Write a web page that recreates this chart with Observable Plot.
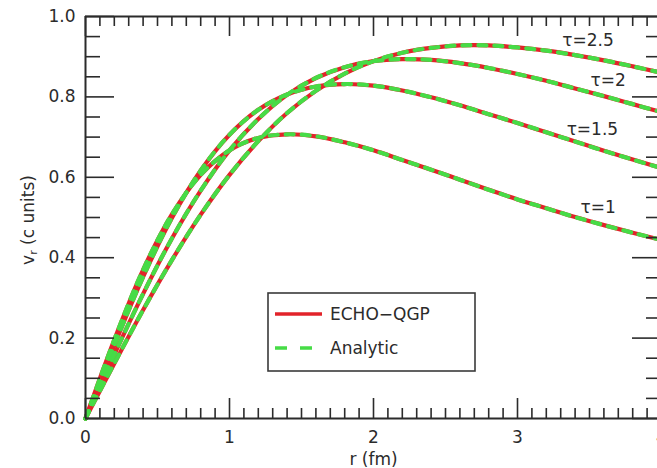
<!DOCTYPE html>
<html>
<head>
<meta charset="utf-8">
<script src="https://cdn.jsdelivr.net/npm/d3@7"></script>
<script src="https://cdn.jsdelivr.net/npm/@observablehq/plot@0.6"></script>
<style>
  html, body { margin: 0; padding: 0; background: #fff; }
  #chart { width: 657px; height: 468px; overflow: hidden; position: relative; }
</style>
</head>
<body>
<div id="chart"></div>
<script>
// ---- data ----
const rValues = [0, 0.2, 0.4, 0.6, 0.8, 1.0, 1.2, 1.4, 1.6, 1.8, 2.0, 2.2, 2.4, 2.6, 2.8, 3.0, 3.2, 3.4, 3.6, 3.8, 4.0];
const taus = [1, 1.5, 2, 2.5];
const vTau1   = [0, 0.196, 0.370, 0.508, 0.606, 0.667, 0.698, 0.707, 0.702, 0.687, 0.667, 0.643, 0.619, 0.594, 0.569, 0.545, 0.523, 0.501, 0.481, 0.462, 0.444];
const vTau15  = [0, 0.182, 0.352, 0.499, 0.617, 0.706, 0.768, 0.806, 0.826, 0.832, 0.828, 0.816, 0.799, 0.779, 0.757, 0.735, 0.712, 0.689, 0.666, 0.644, 0.623];
const vTau2   = [0, 0.159, 0.310, 0.448, 0.567, 0.667, 0.745, 0.805, 0.847, 0.874, 0.889, 0.894, 0.892, 0.884, 0.872, 0.857, 0.840, 0.821, 0.802, 0.782, 0.762];
const vTau25  = [0, 0.137, 0.270, 0.394, 0.507, 0.606, 0.690, 0.760, 0.815, 0.858, 0.889, 0.910, 0.922, 0.928, 0.928, 0.923, 0.915, 0.904, 0.891, 0.876, 0.860];
const curveLabels = ["τ=1", "τ=1.5", "τ=2", "τ=2.5"];
const labelR = [3.56, 3.52, 3.63, 3.49];
const labelV = [0.525, 0.719, 0.841, 0.940];
const xMajor = [0, 1, 2, 3, 4];
const yMajor = [0, 0.2, 0.4, 0.6, 0.8, 1.0];
const seriesNames = ["ECHO−QGP", "Analytic"];

// ---- build table ----
const vSeries = [vTau1, vTau15, vTau2, vTau25];
const rows = [];
taus.forEach((t, k) => rValues.forEach((r, i) => rows.push({tau: t, r, v: vSeries[k][i]})));
const labels = curveLabels.map((s, i) => ({s, r: labelR[i], v: labelV[i]}));
const xMinor = d3.range(0, 41).map(i => i / 10).filter(d => Math.abs(d - Math.round(d)) > 1e-6);
const yMinor = d3.range(0, 21).map(i => i / 20).filter(d => Math.abs(d * 5 - Math.round(d * 5)) > 1e-6);

const RED = "#e2232a", GREEN = "#46dc46", INK = "#2b2b2b";
const W = 657, H = 468;

const plot = Plot.plot({
  width: W, height: H,
  marginLeft: 85, marginRight: 0, marginTop: 16, marginBottom: 50,
  style: {fontFamily: "DejaVu Sans", fontSize: "17px", color: INK, background: "#fff", overflow: "visible"},
  x: {domain: [0, 4], range: [85, 661], axis: null},
  y: {domain: [0, 1], range: [418, 16], axis: null},
  marks: [
    // curves
    Plot.line(rows, {x: "r", y: "v", z: "tau", stroke: RED, strokeWidth: 4.2, curve: "catmull-rom"}),
    Plot.line(rows, {x: "r", y: "v", z: "tau", stroke: GREEN, strokeWidth: 4.2, strokeDasharray: "8,8", curve: "catmull-rom"}),
    // frame
    Plot.ruleX([0, 4], {stroke: INK, strokeWidth: 2}),
    Plot.ruleY([0, 1], {x1: 0, x2: 4, stroke: INK, strokeWidth: 2}),
    // bottom ticks
    Plot.ruleX(xMajor, {x: d => d, y1: 0, y2: 0, insetTop: -20, stroke: INK, strokeWidth: 1.6}),
    Plot.ruleX(xMinor, {x: d => d, y1: 0, y2: 0, insetTop: -10, stroke: INK, strokeWidth: 1.6}),
    // top ticks
    Plot.ruleX(xMajor, {x: d => d, y1: 1, y2: 1, insetBottom: -20, stroke: INK, strokeWidth: 1.6}),
    Plot.ruleX(xMinor, {x: d => d, y1: 1, y2: 1, insetBottom: -10, stroke: INK, strokeWidth: 1.6}),
    // left ticks
    Plot.ruleY(yMajor, {y: d => d, x1: 0, x2: 0, insetRight: -29, stroke: INK, strokeWidth: 1.6}),
    Plot.ruleY(yMinor, {y: d => d, x1: 0, x2: 0, insetRight: -15, stroke: INK, strokeWidth: 1.6}),
    // right ticks
    Plot.ruleY(yMajor, {y: d => d, x1: 4, x2: 4, insetLeft: -29, stroke: INK, strokeWidth: 1.6}),
    Plot.ruleY(yMinor, {y: d => d, x1: 4, x2: 4, insetLeft: -15, stroke: INK, strokeWidth: 1.6}),
    // tick labels
    Plot.axisX(xMajor, {anchor: "bottom", tickSize: 0, tickPadding: 12, label: null, tickFormat: d3.format("d"), fontSize: 17, fill: INK}),
    Plot.axisY(yMajor, {anchor: "left", tickSize: 0, tickPadding: 10, label: null, tickFormat: d3.format(".1f"), fontSize: 17, fill: INK}),
    // curve labels
    Plot.text(labels, {x: "r", y: "v", text: "s", fontSize: 17, fill: INK}),
    // x label
    Plot.text(["r (fm)"], {x: 2, y: 0, dy: 41, text: d => d, fontSize: 17, fill: INK})
  ]
});

const svg = d3.select(plot);
// y axis label with subscript
const yl = svg.append("text")
  .attr("transform", "translate(29,220) rotate(-90)")
  .attr("text-anchor", "middle")
  .attr("dominant-baseline", "middle")
  .attr("font-family", "DejaVu Sans").attr("font-size", 17).attr("fill", INK);
yl.append("tspan").text("v");
yl.append("tspan").attr("font-size", 11).attr("dy", 5).text("r");
yl.append("tspan").attr("dy", -5).text(" (c units)");

// legend
const lg = svg.append("g");
lg.append("rect").attr("x", 268).attr("y", 293).attr("width", 207).attr("height", 78)
  .attr("fill", "#fff").attr("stroke", "#3a3a3a").attr("stroke-width", 1.6);
lg.append("line").attr("x1", 275).attr("x2", 322).attr("y1", 314).attr("y2", 314)
  .attr("stroke", RED).attr("stroke-width", 3.5);
lg.append("line").attr("x1", 275).attr("x2", 322).attr("y1", 348).attr("y2", 348)
  .attr("stroke", GREEN).attr("stroke-width", 3.5).attr("stroke-dasharray", "12,13");
seriesNames.forEach((s, i) => {
  lg.append("text").attr("x", 330).attr("y", i === 0 ? 314 : 348)
    .attr("text-anchor", "start")
    .attr("dominant-baseline", "central")
    .attr("font-family", "DejaVu Sans").attr("font-size", 17).attr("fill", INK).text(s);
});

document.getElementById("chart").appendChild(plot);
</script>
</body>
</html>
